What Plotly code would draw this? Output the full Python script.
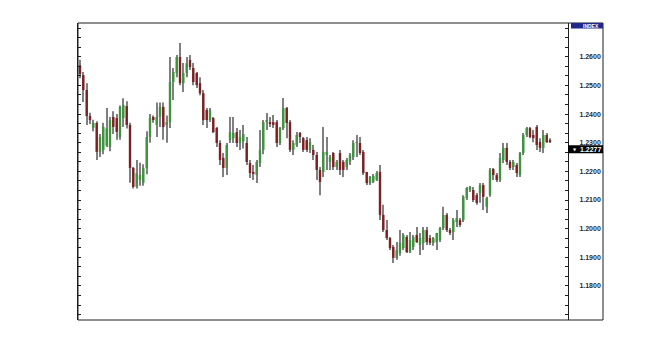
import numpy as np
import plotly.graph_objects as go

opens = [
    1.2570, 1.2536, 1.2484, 1.2393, 1.2352, 1.2369, 1.2268, 1.2275, 1.2290, 1.2285,
    1.2390, 1.2386, 1.2320, 1.2386, 1.2428, 1.2362, 1.2212, 1.2146, 1.2170, 1.2160,
    1.2212, 1.2320, 1.2390, 1.2362, 1.2390, 1.2425, 1.2362, 1.2372, 1.2512, 1.2543,
    1.2599, 1.2508, 1.2543, 1.2589, 1.2561, 1.2543, 1.2508, 1.2473, 1.2414, 1.2379,
    1.2386, 1.2351, 1.2299, 1.2247, 1.2212, 1.2309, 1.2316, 1.2337, 1.2299, 1.2305,
    1.2299, 1.2229, 1.2198, 1.2187, 1.2229, 1.2275, 1.2372, 1.2372, 1.2372, 1.2372,
    1.2299, 1.2351, 1.2421, 1.2372, 1.2275, 1.2292, 1.2334, 1.2316, 1.2309, 1.2275,
    1.2275, 1.2257, 1.2205, 1.2198, 1.2257, 1.2233, 1.2264, 1.2215, 1.2264, 1.2233,
    1.2215, 1.2233, 1.2250, 1.2299, 1.2299, 1.2268, 1.2198, 1.2159, 1.2163, 1.2170,
    1.2198, 1.2048, 1.1995, 1.1967, 1.1936, 1.1898, 1.1915, 1.1932, 1.1971, 1.1918,
    1.1936, 1.1978, 1.1943, 1.1950, 1.1995, 1.1967, 1.1950, 1.1953, 1.1960, 1.2002,
    1.2048, 1.1995, 1.1988, 1.2023, 1.2030, 1.2030, 1.2107, 1.2135, 1.2135, 1.2117,
    1.2124, 1.2152, 1.2076, 1.2117, 1.2208, 1.2187, 1.2170, 1.2240, 1.2282, 1.2233,
    1.2215, 1.2222, 1.2187, 1.2264, 1.2327, 1.2351, 1.2327, 1.2355, 1.2302, 1.2282,
    1.2327, 1.2309,
]
highs = [
    1.2590, 1.2547, 1.2508, 1.2405, 1.2380, 1.2375, 1.2330, 1.2370, 1.2421, 1.2390,
    1.2410, 1.2400, 1.2430, 1.2455, 1.2445, 1.2370, 1.2215, 1.2240, 1.2230, 1.2225,
    1.2340, 1.2400, 1.2395, 1.2440, 1.2440, 1.2440, 1.2395, 1.2599, 1.2561, 1.2606,
    1.2648, 1.2578, 1.2599, 1.2606, 1.2578, 1.2547, 1.2529, 1.2484, 1.2421, 1.2421,
    1.2390, 1.2355, 1.2309, 1.2264, 1.2299, 1.2390, 1.2390, 1.2351, 1.2344, 1.2362,
    1.2320, 1.2240, 1.2222, 1.2240, 1.2344, 1.2379, 1.2404, 1.2390, 1.2397, 1.2379,
    1.2355, 1.2456, 1.2425, 1.2379, 1.2309, 1.2337, 1.2337, 1.2320, 1.2320, 1.2316,
    1.2292, 1.2268, 1.2215, 1.2355, 1.2320, 1.2257, 1.2268, 1.2240, 1.2275, 1.2240,
    1.2247, 1.2264, 1.2309, 1.2327, 1.2320, 1.2275, 1.2198, 1.2184, 1.2191, 1.2201,
    1.2222, 1.2083, 1.2030, 1.1971, 1.1943, 1.1953, 1.1995, 1.1985, 1.1978, 1.1988,
    1.1978, 1.2006, 1.1985, 1.2006, 1.2006, 1.1978, 1.1971, 1.1985, 1.2006, 1.2076,
    1.2055, 1.2002, 1.2037, 1.2065, 1.2037, 1.2117, 1.2145, 1.2149, 1.2145, 1.2124,
    1.2159, 1.2159, 1.2111, 1.2212, 1.2212, 1.2194, 1.2264, 1.2299, 1.2299, 1.2240,
    1.2240, 1.2229, 1.2268, 1.2334, 1.2355, 1.2355, 1.2344, 1.2362, 1.2316, 1.2344,
    1.2334, 1.2316,
]
lows = [
    1.2525, 1.2442, 1.2362, 1.2365, 1.2340, 1.2240, 1.2250, 1.2260, 1.2285, 1.2270,
    1.2330, 1.2310, 1.2310, 1.2355, 1.2350, 1.2160, 1.2140, 1.2140, 1.2150, 1.2150,
    1.2190, 1.2300, 1.2370, 1.2320, 1.2355, 1.2310, 1.2300, 1.2351, 1.2449, 1.2529,
    1.2501, 1.2477, 1.2529, 1.2554, 1.2501, 1.2491, 1.2466, 1.2362, 1.2351, 1.2372,
    1.2334, 1.2285, 1.2222, 1.2180, 1.2187, 1.2299, 1.2299, 1.2285, 1.2275, 1.2280,
    1.2222, 1.2177, 1.2170, 1.2159, 1.2215, 1.2260, 1.2344, 1.2355, 1.2351, 1.2285,
    1.2292, 1.2344, 1.2316, 1.2268, 1.2257, 1.2285, 1.2299, 1.2268, 1.2268, 1.2264,
    1.2240, 1.2170, 1.2117, 1.2180, 1.2205, 1.2205, 1.2205, 1.2205, 1.2187, 1.2180,
    1.2205, 1.2222, 1.2240, 1.2250, 1.2257, 1.2187, 1.2152, 1.2152, 1.2159, 1.2166,
    1.2030, 1.1988, 1.1960, 1.1925, 1.1880, 1.1891, 1.1905, 1.1925, 1.1915, 1.1915,
    1.1925, 1.1950, 1.1908, 1.1925, 1.1943, 1.1943, 1.1940, 1.1925, 1.1953, 1.1995,
    1.1988, 1.1978, 1.1960, 1.2006, 1.2006, 1.2023, 1.2100, 1.2128, 1.2093, 1.2083,
    1.2090, 1.2065, 1.2055, 1.2111, 1.2170, 1.2163, 1.2163, 1.2229, 1.2222, 1.2205,
    1.2205, 1.2180, 1.2180, 1.2257, 1.2320, 1.2316, 1.2302, 1.2275, 1.2268, 1.2264,
    1.2299, 1.2299,
]
closes = [
    1.2540, 1.2484, 1.2393, 1.2379, 1.2369, 1.2268, 1.2320, 1.2355, 1.2350, 1.2379,
    1.2355, 1.2338, 1.2425, 1.2432, 1.2362, 1.2212, 1.2146, 1.2194, 1.2187, 1.2212,
    1.2320, 1.2386, 1.2379, 1.2390, 1.2425, 1.2355, 1.2372, 1.2512, 1.2547, 1.2599,
    1.2508, 1.2543, 1.2578, 1.2564, 1.2512, 1.2501, 1.2473, 1.2379, 1.2379, 1.2414,
    1.2337, 1.2299, 1.2240, 1.2212, 1.2292, 1.2337, 1.2334, 1.2299, 1.2320, 1.2330,
    1.2233, 1.2194, 1.2191, 1.2233, 1.2275, 1.2372, 1.2379, 1.2365, 1.2362, 1.2299,
    1.2351, 1.2421, 1.2369, 1.2275, 1.2299, 1.2327, 1.2320, 1.2275, 1.2275, 1.2302,
    1.2257, 1.2205, 1.2163, 1.2268, 1.2268, 1.2250, 1.2215, 1.2233, 1.2205, 1.2205,
    1.2240, 1.2257, 1.2299, 1.2302, 1.2264, 1.2194, 1.2159, 1.2180, 1.2184, 1.2194,
    1.2048, 1.1995, 1.1967, 1.1932, 1.1898, 1.1925, 1.1950, 1.1978, 1.1918, 1.1960,
    1.1971, 1.1953, 1.1967, 1.1995, 1.1953, 1.1950, 1.1967, 1.1985, 1.2002, 1.2048,
    1.1995, 1.1985, 1.2030, 1.2037, 1.2013, 1.2111, 1.2142, 1.2145, 1.2100, 1.2090,
    1.2152, 1.2111, 1.2107, 1.2205, 1.2187, 1.2170, 1.2247, 1.2282, 1.2233, 1.2212,
    1.2233, 1.2194, 1.2264, 1.2327, 1.2351, 1.2320, 1.2316, 1.2292, 1.2282, 1.2327,
    1.2302, 1.2302,
]
tick_values = [1.18, 1.19, 1.20, 1.21, 1.22, 1.23, 1.24, 1.25, 1.26]
tick_labels = ["1.1800", "1.1900", "1.2000", "1.2100", "1.2200",
               "1.2300", "1.2400", "1.2500", "1.2600"]
last_price = 1.2277
axis_title = "INDEX"

o = np.array(opens)
h = np.array(highs)
l = np.array(lows)
c = np.array(closes)
idx = np.arange(len(o))

UP = "#3f933f"
DOWN = "#7e1f22"
WICK = "#808080"
INK = "#1e1e1e"

body_base = np.minimum(o, c)
body_len = np.maximum(np.abs(c - o), 0.00025)
body_col = [UP if cc >= oo else DOWN for oo, cc in zip(o, c)]

fig = go.Figure()
fig.add_trace(go.Bar(x=idx, base=l, y=h - l, width=0.3,
                     marker=dict(color=WICK, line=dict(width=0)),
                     hoverinfo="skip", showlegend=False))
fig.add_trace(go.Bar(x=idx, base=body_base, y=body_len, width=0.72,
                     marker=dict(color=body_col, line=dict(width=0)),
                     hoverinfo="skip", showlegend=False))

W, H = 667, 353
ml, mr, mt, mb = 78, 99, 23, 33
pw = W - ml - mr
ph = H - mt - mb
panel = 35 / pw

fig.update_layout(
    width=W, height=H, autosize=False,
    margin=dict(l=ml, r=mr, t=mt, b=mb, pad=0),
    paper_bgcolor="white", plot_bgcolor="white",
    barmode="overlay", showlegend=False,
    xaxis=dict(range=[-0.6, 146.4], showticklabels=False, showgrid=False,
               zeroline=False, showline=False, ticks=""),
    yaxis=dict(range=[1.1681, 1.2718], side="right",
               tickmode="array", tickvals=tick_values, ticktext=tick_labels,
               ticks="inside", ticklen=3, tickcolor=INK,
               showgrid=False, zeroline=False,
               showline=True, linecolor=INK, linewidth=1, mirror="ticks",
               ticklabelstandoff=9,
               tickfont=dict(family="Liberation Sans", size=7, color="#2a2a2a",
                             weight="bold"),
               minor=dict(tickmode="linear", tick0=tick_values[0],
                          dtick=(tick_values[1] - tick_values[0]) / 3,
                          ticks="inside", ticklen=3, tickcolor=INK, showgrid=False)),
    shapes=[
        dict(type="rect", xref="paper", yref="paper", x0=0, x1=1 + panel, y0=0, y1=1,
             line=dict(color=INK, width=1), fillcolor="rgba(0,0,0,0)", layer="above"),
        dict(type="rect", xref="paper", yref="paper", x0=1 + 3 / pw, x1=1 + panel,
             y0=1 - 5.5 / ph, y1=1, line=dict(width=0), fillcolor="#1f2a8c", layer="above"),
        dict(type="rect", xref="paper", yref="y", x0=1, x1=1 + panel,
             y0=last_price - 0.0014, y1=last_price + 0.0014,
             line=dict(width=0), fillcolor="#000000", layer="above"),
    ],
    annotations=[
        dict(xref="paper", yref="paper", x=1 + 33 / pw, y=1 - 2.75 / ph, text=axis_title,
             showarrow=False, xanchor="right", yanchor="middle",
             font=dict(family="Liberation Sans", size=5, color="white", weight="bold")),
        dict(xref="paper", yref="y", x=1 + 2.5 / pw, y=last_price, text="▼",
             showarrow=False, xanchor="left", yanchor="middle",
             font=dict(family="DejaVu Sans", size=4, color="white")),
        dict(xref="paper", yref="y", x=1 + 10 / pw, y=last_price, text=f"{last_price:.4f}",
             showarrow=False, xanchor="left", yanchor="middle",
             font=dict(family="Liberation Sans", size=7, color="white", weight="bold")),
    ],
)

fig.write_html("out.html")
